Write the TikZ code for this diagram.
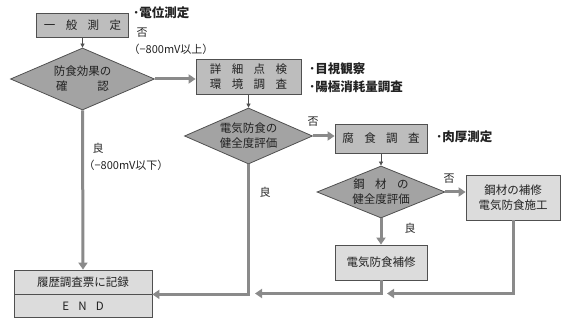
\documentclass[tikz,border=0pt]{standalone}
\usepackage{fontspec}
\setmainfont{Noto Sans CJK JP}
\usetikzlibrary{arrows.meta,shapes.geometric}
\definecolor{boxA}{HTML}{BDBDBD}
\definecolor{diaF}{HTML}{A3A3A3}
\definecolor{boxB}{HTML}{DCDCDC}
\definecolor{edgeC}{HTML}{505050}
\definecolor{flowC}{HTML}{8A8A8A}
\definecolor{txtC}{HTML}{222222}
\begin{document}
\begin{tikzpicture}[x=1pt,y=-1pt,
  boxa/.style={draw=edgeC, fill=boxA, line width=0.8pt, inner sep=0pt, align=center,
    text=txtC, font=\fontsize{11.5}{15}\selectfont},
  boxb/.style={boxa, fill=boxB},
  dia/.style={diamond, aspect=2.3, draw=edgeC, fill=diaF, line width=0.8pt, inner sep=0pt,
    align=center, text=txtC, font=\fontsize{11.5}{15}\selectfont},
  note/.style={inner sep=0pt, text=txtC, font=\fontsize{12.5}{15}\selectfont\bfseries},
  lbl/.style={inner sep=0pt, text=txtC, font=\fontsize{11}{13}\selectfont},
  thin/.style={draw=edgeC, line width=0.8pt, -{Triangle[length=4pt,width=4pt]}},
  flow/.style={draw=flowC, line width=3pt, -{Triangle[length=7pt,width=9pt]}},
  flowline/.style={draw=flowC, line width=3pt}
]
\useasboundingbox (0,0) rectangle (568,320);

% nodes
\node[boxa, minimum width=92pt, minimum height=24pt] (b1) at (82.5,25) {一\hspace{0.9em}般\hspace{0.9em}測\hspace{0.9em}定};
\node[dia, minimum width=144pt, minimum height=62pt] (d1) at (82.5,79) {防食効果の\\確\hspace{2.6em}認};
\node[boxa, minimum width=105pt, minimum height=35pt] (b2) at (248.5,76.5) {詳\hspace{0.9em}細\hspace{0.9em}点\hspace{0.9em}検\\環\hspace{0.9em}境\hspace{0.9em}調\hspace{0.9em}査};
\node[dia, minimum width=128pt, minimum height=56pt] (d2) at (248.5,136) {電気防食の\\健全度評価};
\node[boxa, minimum width=92pt, minimum height=29pt] (b3) at (381,138.5) {腐\hspace{0.9em}食\hspace{0.9em}調\hspace{0.9em}査};
\node[dia, minimum width=128pt, minimum height=52pt] (d3) at (381,192) {鋼\hspace{0.9em}材\hspace{0.9em}の\\健全度評価};
\node[boxb, minimum width=92pt, minimum height=35pt] (b4) at (381,262.5) {電気防食補修};
\node[boxb, minimum width=94pt, minimum height=45pt] (b5) at (513,197.5) {鋼材の補修\\電気防食施工};
\node[boxb, minimum width=138pt, minimum height=24pt] (b6) at (83,282) {履歴調査票に記録};
\node[boxb, minimum width=138pt, minimum height=23pt, anchor=north] (b7) at (b6.south) {E\hspace{0.8em}N\hspace{0.8em}D};

% notes
\node[note, anchor=west] (n1) at (133,13) {･電位測定};
\node[note, anchor=west] (n2) at (309,69) {･目視観察};
\node[note, anchor=west] (n3) at (309,87) {･陽極消耗量調査};
\node[note, anchor=west] (n4) at (436,137) {･肉厚測定};

% labels
\node[lbl] (l1) at (142,33) {否};
\node[lbl] (l2) at (171,49) {（−800mV以上）};
\node[lbl] (l3) at (313,122) {否};
\node[lbl] (l4) at (449,179) {否};
\node[lbl] (l5) at (410,228) {良};
\node[lbl] (l6) at (98,148) {良};
\node[lbl] (l7) at (126,165) {（−800mV以下）};
\node[lbl] (l8) at (265,192) {良};

% junction coordinates
\coordinate (j1) at (255,293.5);
\coordinate (j2) at (387,293.5);

% connectors
\draw[thin] (b1.south) -- (d1.north);
\draw[thin] (b2.south) -- (d2.north);
\draw[thin] (b3.south) -- (d3.north);
\draw[flow] (d1.east) -- (d1.east -| b2.west);
\draw[flow] (d1.south) -- (b6.north);
\draw[flow] (d2.east) -- (d2.east -| b3.west);
\draw[flow] (d2.south) |- (b6.south east);
\draw[flow] (d3.east) -- (d3.east -| b5.west);
\draw[flow] (d3.south) -- (b4.north);
\draw[flow] (b4.south) |- (j1);
\draw[flow] (b5.south) |- (j2);
\end{tikzpicture}
\end{document}
